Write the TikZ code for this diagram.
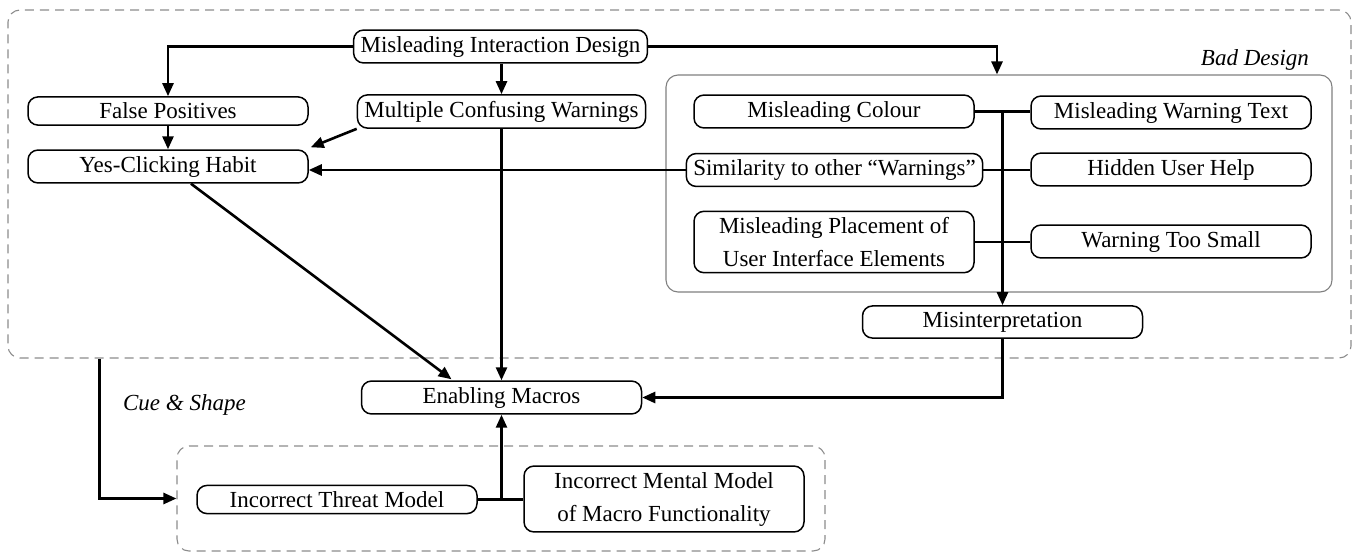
\documentclass[tikz,border=0pt]{standalone}
\usepackage{fontspec}
\setmainfont{Liberation Serif}
\usetikzlibrary{arrows.meta,calc}
\begin{document}
\begin{tikzpicture}[x=0.5pt,y=-0.5pt,
  font=\rmfamily\fontsize{11.5}{16.5}\selectfont,
  box/.style={draw, line width=0.75pt, rounded corners=5pt, minimum width=140pt,
    inner xsep=3.5pt, inner ysep=3pt, align=center, fill=white},
  conn/.style={line width=1.3pt},
  arr/.style={conn, -{Triangle[length=6.5pt,width=5.5pt]}},
  group/.style={draw=black!45, dash pattern=on 4.5pt off 3pt, line width=0.55pt,
    rounded corners=6pt, inner sep=0pt},
  subgroup/.style={draw=black!50, line width=0.55pt, rounded corners=6pt, inner sep=0pt},
  tag/.style={font=\rmfamily\fontsize{11.5}{14}\selectfont\itshape}]
\useasboundingbox (0,0) rectangle (1354,552);

% grouping frames
\node[group, minimum width=671.5pt, minimum height=174pt] (outer) at (679.5,184) {};
\node[subgroup, minimum width=333pt, minimum height=108.5pt] (bad) at (999,183.5) {};
\node[group, minimum width=324pt, minimum height=52.5pt] (lower) at (501,498.5) {};
\node[tag, anchor=base east] (badlbl) at (1316,65) {Bad Design};
\node[tag, anchor=base west] (cuelbl) at (116,410) {Cue \& Shape};

% factors
\node[box] (mid) at (500.5,46.5) {Misleading Interaction Design};
\node[box] (fp)  at (168,111) {False Positives};
\node[box] (mcw) at (501.5,111.5) {Multiple Confusing Warnings};
\node[box] (ych) at (168,166.5) {Yes-Clicking Habit};
\node[box] (mc)  at (834,111.5) {Misleading Colour};
\node[box] (mwt) at (1171,112.5) {Misleading Warning Text};
\node[box] (sim) at (834.5,170) {Similarity to other “Warnings”};
\node[box] (huh) at (1171,169.5) {Hidden User Help};
\node[box] (mpl) at (834,242) {Misleading Placement of\\User Interface Elements};
\node[box] (wts) at (1171,241.5) {Warning Too Small};
\node[box] (mis) at (1002.5,322) {Misinterpretation};
\node[box] (em)  at (501.5,397.5) {Enabling Macros};
\node[box] (itm) at (337,499.5) {Incorrect Threat Model};
\node[box] (imm) at (664,499) {Incorrect Mental Model\\of Macro Functionality};

% connectors
\draw[arr] (mid.west) -| (fp.north);
\draw[arr] (mcw.north |- mid.south) -- (mcw.north);
\draw[arr] (mid.east) -| ([xshift=-1pt]bad.north);
\draw[arr] (fp.south) -- (ych.north);
\draw[arr] (mcw.south west) -- ($(ych.north east)+(2,-2)$);
\draw[arr] (sim.west) -- (sim.west -| ych.east);
\draw[arr] (mcw.south) -- (em.north);
\draw[arr] ($(ych.south)+(23,0)$) -- ($(em.north)+(-50,-1)$);

\draw[conn] (mc.east) -- (mc.east -| mwt.west);
\draw[conn] (sim.east) -- (sim.east -| huh.west);
\draw[conn] (mpl.east) -- (mpl.east -| wts.west);
\draw[arr] (mis.north |- mc.east) -- (mis.north);
\draw[arr] (mis.south) |- (em.east);

\draw[conn] (itm.east) -- (itm.east -| imm.west);
\draw[arr] (em.south |- itm.east) -- (em.south);

\coordinate (cuestart) at ($(outer.south west)+(92,0)$);
\draw[arr] (cuestart) |- (lower.west);
\end{tikzpicture}
\end{document}
